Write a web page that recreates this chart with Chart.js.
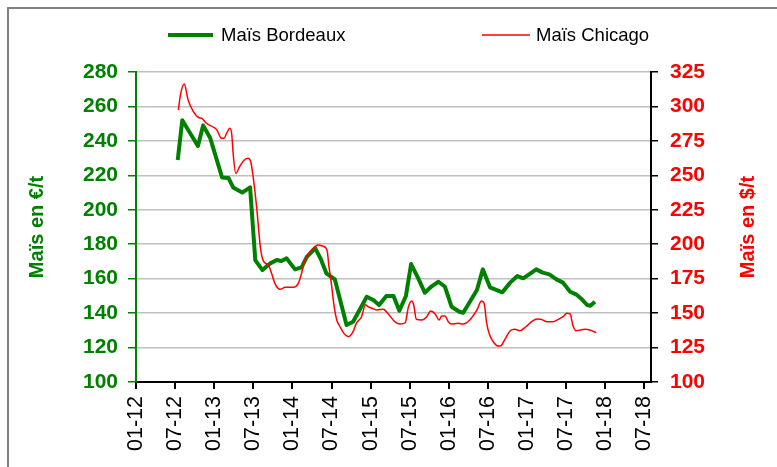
<!DOCTYPE html>
<html>
<head>
<meta charset="utf-8">
<script src="https://cdn.jsdelivr.net/npm/chart.js@4/dist/chart.umd.min.js"></script>
<style>
  html, body { margin:0; padding:0; background:#fff; overflow:hidden; width:777px; height:467px; }
  #frame { position:absolute; left:7px; top:7px; width:900px; height:600px; border-left:2px solid #808080; border-top:2px solid #808080; }
  #c { position:absolute; left:0; top:0; }
</style>
</head>
<body>
<div id="frame"></div>
<canvas id="c" width="777" height="467"></canvas>
<script>
// ---- data (x = months since Jan 2012) ----
const bordeauxMonths = [6.4,7.1,9.5,10.3,11.4,13.2,14.2,14.9,16.3,17.5,18.3,19.4,20.6,21.6,22.3,23.1,24.4,25.4,26.2,27.5,28.3,29.2,30.5,32.3,33.3,35.4,36.4,37.3,38.4,39.5,40.4,41.4,42.2,43.3,44.3,45.4,46.4,47.4,48.4,49.6,50.2,52.3,53.2,54.3,56.2,57.4,58.5,59.4,60.3,61.4,62.4,63.4,64.5,65.5,66.6,67.5,68.4,69.2,69.7,70.4];
const bordeauxValues = [228.9,252,237,249,241.5,218.8,218.4,213,210,213,170.8,165,168.9,170.8,170.3,171.8,165.4,166.6,172.7,177.6,171.8,163.1,159.6,133.1,135,149.5,147.6,144.7,149.9,149.9,141.4,149.9,168.5,160.2,151.8,155.7,158.2,155.3,143.7,140.8,140.2,153.4,165.4,155,152.1,157.7,161.5,160.2,162.5,165.4,163.5,162.5,159.6,157.7,152.4,150.9,148,144.7,144.3,146.6];
const chicagoMonths = [6.5,6.8,7.4,8.0,8.8,9.6,10.1,10.8,11.9,12.4,13.1,13.5,13.9,14.4,14.7,14.9,15.3,15.9,16.5,17.2,17.6,17.9,18.5,19.1,19.6,20.3,20.8,21.3,22.1,22.9,24.1,24.9,25.4,25.9,26.9,28.0,28.6,29.3,29.6,29.9,30.4,30.8,31.3,31.9,32.6,33.3,33.8,34.6,35.2,35.6,36.2,36.9,37.9,38.7,39.7,40.5,41.3,41.8,42.3,42.6,43.0,43.8,44.6,45.2,45.9,46.5,46.9,47.4,47.9,48.4,49.4,50.2,51.2,52.3,53.0,53.4,53.8,54.2,54.9,55.6,55.9,56.6,57.4,58.1,58.9,59.8,60.7,61.5,62.1,63.0,63.9,64.8,65.5,66.1,66.6,67.0,67.5,68.1,68.9,69.6,70.6];
const chicagoValues = [297.4,308,316.3,304.7,296.2,292,291.4,287.8,284.9,283,276.9,276.9,280.5,284.1,279.3,266,251.5,256.3,260.6,262.4,259.9,251.5,227.2,197,187.3,184.9,178.9,171.6,167.3,168.7,168.7,171.6,178.9,188.5,195.8,199.4,198.7,195.8,183.7,174,154.7,145,140.1,135.3,132.9,136.5,142.6,147.4,156,154.7,153.5,152.3,152.8,149.4,143.8,142.1,143,154.7,158.8,155.9,145.5,145,147.4,151.5,149.4,145,147.9,147.9,143.8,142.1,142.6,142.1,145,152.3,158.8,157.1,142.6,134.8,128.5,126.1,126.1,131,137.2,138.2,137.2,140.1,143.8,145.7,145.5,143.8,143.8,145.5,147.4,149.9,149.4,141.4,137.2,137.7,138.2,137.7,135.8];
const xTickMonths = [0,6,12,18,24,30,36,42,48,54,60,66,72,78];
const xTickLabels = ['01-12','07-12','01-13','07-13','01-14','07-14','01-15','07-15','01-16','07-16','01-17','07-17','01-18','07-18'];
const seriesNames = ['Maïs Bordeaux','Maïs Chicago'];
const leftTitle = 'Maïs en €/t';
const rightTitle = 'Maïs en $/t';

const GREEN = '#008000', RED = '#ff0000';
const FONT = "'Liberation Sans', Arial, sans-serif";

const toPts = (xs, ys) => xs.map((x, i) => ({x, y: ys[i]}));

const decor = {
  id: 'decor',
  afterDraw(chart) {
    const ctx = chart.ctx, a = chart.chartArea;
    ctx.save();
    // legend
    ctx.lineCap = 'butt';
    ctx.strokeStyle = GREEN; ctx.lineWidth = 4;
    ctx.beginPath(); ctx.moveTo(168, 35); ctx.lineTo(213, 35); ctx.stroke();
    ctx.strokeStyle = RED; ctx.lineWidth = 1.5;
    ctx.beginPath(); ctx.moveTo(482, 35); ctx.lineTo(530, 35); ctx.stroke();
    ctx.fillStyle = '#000'; ctx.font = '18.5px ' + FONT;
    ctx.textBaseline = 'middle'; ctx.textAlign = 'left';
    ctx.fillText(seriesNames[0], 221, 36);
    ctx.fillText(seriesNames[1], 536, 36);
    // axis titles
    const cy = (a.top + a.bottom) / 2;
    ctx.font = 'bold 20px ' + FONT; ctx.textAlign = 'center';
    ctx.save(); ctx.translate(a.left - 99, cy); ctx.rotate(-Math.PI/2);
    ctx.fillStyle = GREEN; ctx.fillText(leftTitle, 0, 0); ctx.restore();
    ctx.save(); ctx.translate(a.right + 97, cy); ctx.rotate(-Math.PI/2);
    ctx.fillStyle = RED; ctx.fillText(rightTitle, 0, 0); ctx.restore();
    ctx.restore();
  }
};

new Chart(document.getElementById('c'), {
  type: 'line',
  data: {
    datasets: [
      { label: seriesNames[1], data: toPts(chicagoMonths, chicagoValues), yAxisID: 'y1',
        borderColor: RED, borderWidth: 1.5, pointRadius: 0, cubicInterpolationMode: 'monotone', fill: false },
      { label: seriesNames[0], data: toPts(bordeauxMonths, bordeauxValues), yAxisID: 'y',
        borderColor: GREEN, borderWidth: 4, pointRadius: 0, tension: 0, fill: false, borderJoinStyle: 'round' }
    ]
  },
  options: {
    responsive: false, animation: false, devicePixelRatio: 1,
    layout: { padding: { top: 72, left: 0, right: 0, bottom: 0 } },
    plugins: { legend: { display: false }, tooltip: { enabled: false } },
    scales: {
      x: {
        type: 'linear', position: 'bottom', min: 0, max: 79,
        afterBuildTicks: s => { s.ticks = xTickMonths.map(v => ({value: v})); },
        afterFit: s => { s.height = 85; },
        grid: { drawOnChartArea: false, drawTicks: true, tickLength: 7, tickColor: '#000', lineWidth: 2 },
        border: { color: '#000', width: 2 },
        ticks: { autoSkip: false, minRotation: 90, maxRotation: 90, padding: 7, color: '#000',
                 font: { family: FONT, size: 21.5 },
                 callback: (v, i) => xTickLabels[i] }
      },
      y: {
        position: 'left', min: 100, max: 280,
        afterFit: s => { s.width = 136; },
        grid: { color: '#c0c0c0', lineWidth: 1.5, tickLength: 8, tickColor: GREEN, tickWidth: 1.5 },
        border: { color: GREEN, width: 2 },
        ticks: { stepSize: 20, padding: 10, color: GREEN, font: { family: FONT, size: 21, weight: 'bold' } }
      },
      y1: {
        position: 'right', min: 100, max: 325,
        afterFit: s => { s.width = 126; },
        grid: { drawOnChartArea: false, tickLength: 7, tickColor: '#000', lineWidth: 1.5 },
        border: { color: '#000', width: 2 },
        ticks: { stepSize: 25, padding: 12, color: RED, font: { family: FONT, size: 21, weight: 'bold' } }
      }
    }
  },
  plugins: [decor]
});
</script>
</body>
</html>
